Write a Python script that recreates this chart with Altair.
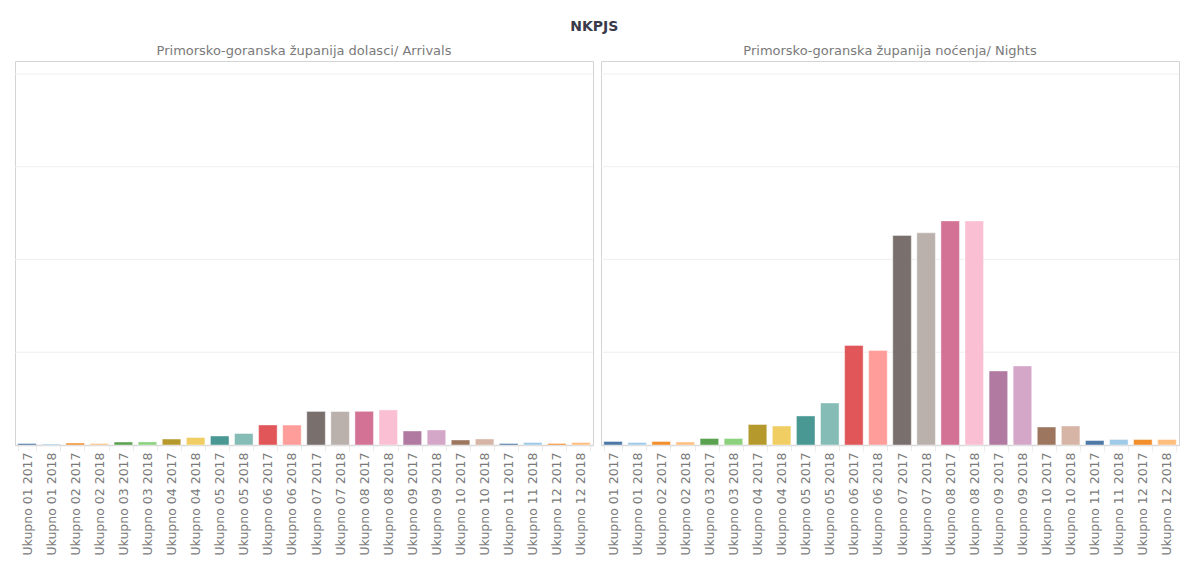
import altair as alt
import pandas as pd

months = ["01", "02", "03", "04", "05", "06", "07", "08", "09", "10", "11", "12"]
years = ["2017", "2018"]
categories = [f"Ukupno {m} {y}" for m in months for y in years]

panels = [
    "Primorsko-goranska županija dolasci/ Arrivals",
    "Primorsko-goranska županija noćenja/ Nights",
]

arrivals = [8000, 5500, 10500, 8000, 16000, 16500, 32000, 40500, 48500, 62000,
            108000, 107500, 181000, 180500, 181500, 189000, 75500, 81000,
            27000, 32500, 8000, 13500, 8000, 13500]

nights = [19000, 13500, 19000, 16000, 35000, 35000, 110500, 102500, 156500, 226500,
          537000, 510000, 1130000, 1143500, 1208000, 1208000, 399000, 426000,
          97000, 102500, 24000, 29500, 29500, 29500]

colors = ["#4E79A7", "#A0CBE8", "#F28E2B", "#FFBE7D", "#59A14F", "#8CD17D",
          "#B6992D", "#F1CE63", "#499894", "#86BCB6", "#E15759", "#FF9D9A",
          "#79706E", "#BAB0AC", "#D37295", "#FABFD2", "#B07AA1", "#D4A6C8",
          "#9D7660", "#D7B5A6", "#4E79A7", "#A0CBE8", "#F28E2B", "#FFBE7D"]

grid_values = [500000, 1000000, 1500000, 2000000]

FONT = "DejaVu Sans"
yscale = alt.Scale(domain=[0, 2070000], nice=False)
grid_df = pd.DataFrame({"value": grid_values})


def make_panel(name, series):
    df = pd.DataFrame({"category": categories, "value": series})
    bars = alt.Chart(df).mark_bar(stroke="white", strokeWidth=0.6, strokeOpacity=0.7).encode(
        x=alt.X(
            "category:N",
            sort=categories,
            scale=alt.Scale(paddingInner=0.23, paddingOuter=0.115),
            axis=alt.Axis(
                title=None,
                labelAngle=-90,
                labelFont=FONT,
                labelFontSize=12.5,
                labelColor="#7a7a7a",
                labelPadding=1,
                ticks=True,
                tickBand="extent",
                tickColor="#ececec",
                tickSize=6,
                domainColor="#d9d9d9",
                domainWidth=1.5,
                grid=False,
            ),
        ),
        y=alt.Y("value:Q", scale=yscale, axis=None),
        color=alt.Color("category:N", scale=alt.Scale(domain=categories, range=colors), legend=None),
    )
    grid = alt.Chart(grid_df).mark_rule(color="#efefef", strokeWidth=1).encode(
        y=alt.Y("value:Q", scale=yscale, axis=None)
    )
    return alt.layer(grid, bars).properties(
        width=578,
        height=384,
        title=alt.TitleParams(
            name,
            font=FONT,
            fontSize=13,
            fontWeight="normal",
            color="#7a7a7a",
            anchor="middle",
            offset=3,
        ),
    )


left = make_panel(panels[0], arrivals)
right = make_panel(panels[1], nights)

chart = alt.hconcat(left, right, spacing=0).properties(
    title=alt.TitleParams(
        "NKPJS",
        font=FONT,
        fontSize=14,
        fontWeight="bold",
        color="#3a3a4a",
        anchor="middle",
        offset=11,
    ),
    padding={"left": 0, "top": 11, "right": 0, "bottom": 0},
).configure_view(
    stroke="#d4d4d4", strokeWidth=1
)

chart.save("out.html", embed_options={"renderer": "svg", "actions": False})
